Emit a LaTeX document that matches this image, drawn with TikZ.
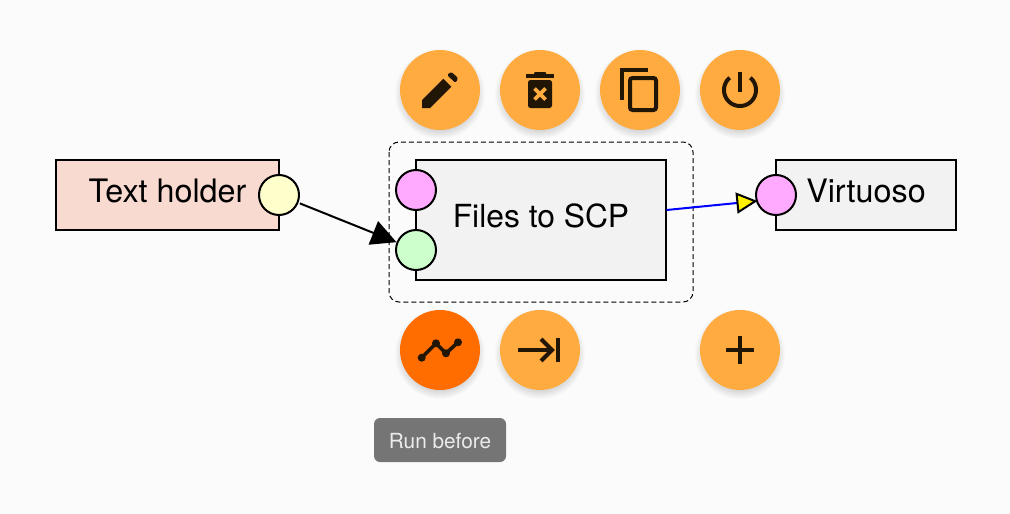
\documentclass[tikz,border=0pt]{standalone}
\usepackage{fontspec}
\setmainfont{TeX Gyre Heros}
\usetikzlibrary{arrows.meta,calc}
\definecolor{pagebg}{HTML}{FBFBFB}
\definecolor{fabcol}{HTML}{FFAB40}
\definecolor{fabactive}{HTML}{FF6D00}
\definecolor{icon}{HTML}{211505}
\definecolor{pinkbox}{HTML}{F8DAD0}
\definecolor{greybox}{HTML}{F2F2F2}
\definecolor{portmag}{HTML}{FFAAFF}
\definecolor{portyel}{HTML}{FFFFCC}
\definecolor{portgrn}{HTML}{CCFFCC}
\definecolor{tipbg}{HTML}{757575}
\tikzset{
  boxnode/.style={draw=black,line width=2pt,rectangle,inner sep=0pt,outer sep=0pt,
    text height=23pt,text depth=9pt,font=\fontsize{32.3}{38}\selectfont},
  port/.style={draw=black,line width=2pt,circle,minimum size=40pt,inner sep=0pt,outer sep=1pt},
  fab/.style={circle,minimum size=80pt,inner sep=0pt,outer sep=0pt},
  iconline/.style={draw=icon,line width=4pt},
  iconfill/.style={fill=icon,draw=none},
  tooltip/.style={fill=tipbg,rounded corners=6pt,minimum width=132pt,minimum height=44pt,
    inner sep=0pt,text=white!92!black,text height=17pt,text depth=0pt,font=\fontsize{20.8}{24}\selectfont},
  selbox/.style={draw=black,line width=1pt,dash pattern=on 5pt off 3pt,rounded corners=10pt}
}
\newcommand{\fabbutton}[4]{%
  \foreach \rr in {33,34,...,45}{\fill[black,opacity=0.017] (#2,#3+4) circle[radius=\rr pt];}
  \node[fab,fill=#4] (#1) at (#2,#3) {};
}
\begin{document}
\begin{tikzpicture}[x=1pt,y=-1pt]
\useasboundingbox (0,0) rectangle (1010,514);
\fill[pagebg] (0,0) rectangle (1010,514);

% selection
\coordinate (selA) at (389,142);
\coordinate (selB) at (693,302);
\draw[selbox] (selA) rectangle (selB);

% boxes
\node[boxnode,fill=pinkbox,minimum width=223pt,minimum height=70pt] (holder) at (167.5,195) {Text holder};
\node[boxnode,fill=greybox,minimum width=250pt,minimum height=120pt,font=\fontsize{31.8}{38}\selectfont] (files) at (541,220) {Files to SCP};
\node[boxnode,fill=greybox,minimum width=180pt,minimum height=70pt] (virt) at (866,195) {Virtuoso};

% ports
\node[port,fill=portyel] (pYel) at (279,195) {};
\node[port,fill=portmag] (pIn) at (416,190) {};
\node[port,fill=portgrn] (pGrn) at (416,250) {};
\node[port,fill=portmag] (pVirt) at (776,195) {};

% connectors
\coordinate (filesOut) at (666.5,210);
\draw[black,line width=2pt,shorten <=1.5pt,-{Triangle[length=25pt,width=25pt]}] (pYel) -- (pGrn);
\draw[blue,line width=2pt,shorten >=-1.5pt,-{Triangle[length=21pt,width=21pt,color=black,fill=yellow,line width=2pt]}] (filesOut) -- (pVirt.197);

% buttons
\fabbutton{bEdit}{440}{90}{fabcol}
\fabbutton{bDel}{540}{90}{fabcol}
\fabbutton{bCopy}{640}{90}{fabcol}
\fabbutton{bPower}{740}{90}{fabcol}
\fabbutton{bRun}{440}{350}{fabactive}
\fabbutton{bNext}{540}{350}{fabcol}
\fabbutton{bAdd}{740}{350}{fabcol}

% pencil
\fill[iconfill] (422,100) -- (443.3,78.7) -- (451.3,86.7) -- (430,108) -- (422,108) -- cycle;
\fill[iconfill,rounded corners=1.5pt] (447,74.8) -- (451.5,71.8) -- (458.3,78.5) -- (455.3,83) -- cycle;
% trash
\fill[iconfill] (526,74) rectangle (554,78);
\fill[iconfill,rounded corners=1pt] (534,75) -- (534,72) -- (546,72) -- (546,75) -- cycle;
\fill[iconfill,rounded corners=2.5pt] (528,80) -- (552,80) -- (552,108) -- (528,108) -- cycle;
\draw[fabcol,line width=3.6pt] (534.5,88.5) -- (545.5,99.5) (545.5,88.5) -- (534.5,99.5);
% copy
\draw[iconline] (622,100) -- (622,70) -- (648,70);
\draw[iconline,rounded corners=2.5pt] (630,78) rectangle (656,110);
% power
\draw[iconline] plot[domain=-50:230,samples=70] ({740+16*cos(\x)},{90+16*sin(\x)});
\draw[iconline] (740,72) -- (740,92);
% chart
\draw[draw=icon,line width=3.6pt] (421.7,357.7) -- (436,343.3) -- (446,353.3) -- (458,342.3);
\fill[iconfill] (421.7,357.7) circle[radius=4pt] (436,343.3) circle[radius=4pt]
  (446,353.3) circle[radius=4pt] (458,342.3) circle[radius=4pt];
% run to end
\draw[iconline] (518,350) -- (552,350);
\draw[iconline] (541,339) -- (552,350) -- (541,361);
\draw[iconline] (558,338) -- (558,362);
% plus
\draw[iconline] (726,350) -- (754,350) (740,336) -- (740,364);

% tooltip
\node[tooltip] (tip) at (440,440) {Run before};
\end{tikzpicture}
\end{document}
